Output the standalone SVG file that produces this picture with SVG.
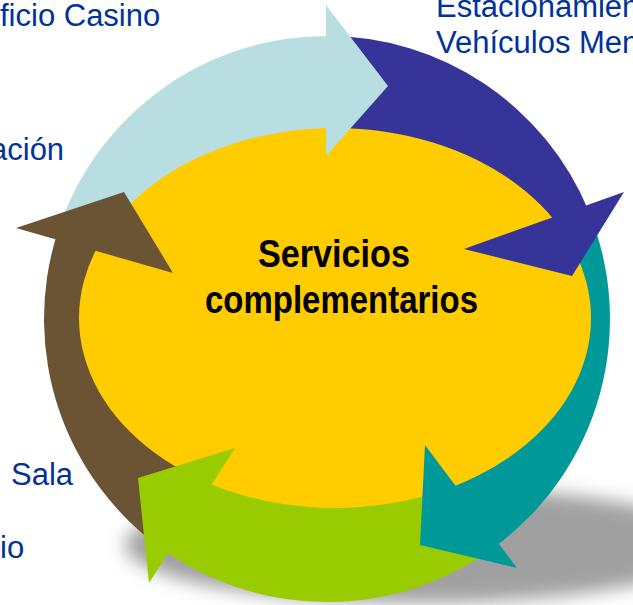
<svg xmlns="http://www.w3.org/2000/svg" width="633" height="605" viewBox="0 0 633 605">
  <defs>
    <filter id="blur" x="-20%" y="-50%" width="140%" height="200%">
      <feGaussianBlur stdDeviation="9"/>
    </filter>
    <style>
      .lbl { font-family: "Liberation Sans", Arial, sans-serif; font-size: 31px; fill: #003399; }
      .ctr { font-family: "Liberation Sans Narrow", "Liberation Sans", Arial, sans-serif; font-weight: bold; font-size: 38px; fill: #000000; }
      .lb { fill: #B9DEE2; }
      .db { fill: #363399; }
      .tl { fill: #009999; }
      .gr { fill: #99CC00; }
      .br { fill: #6B5433; }
    </style>
  </defs>
  <rect width="633" height="605" fill="#FFFFFF"/>

  <!-- shadow -->
  <ellipse cx="420" cy="545" rx="295" ry="58" fill="#A0A0A0" filter="url(#blur)"/>

  <!-- ring bodies (connectors) -->
  <g id="connectors">
    <path class="lb" d="M56.2,236.7 A283,283 0 0 1 331,36 L329.4,149 A170,170 0 0 0 164.3,269.6 Z"/>
    <path class="db" d="M327.5,36 A283,283 0 0 1 588.5,210.7 L484.1,253.9 A170,170 0 0 0 327.3,149 Z"/>
    <path class="tl" d="M587.3,208 A283,283 0 0 1 495.3,546.5 L428.1,455.7 A170,170 0 0 0 483.4,252.3 Z"/>
    <path class="gr" d="M497.7,544.7 A283,283 0 0 1 159.9,547.4 L226.6,456.2 A170,170 0 0 0 429.5,454.6 Z"/>
    <path class="br" d="M163.1,549.7 A283,283 0 0 1 56.8,234.8 L164.7,268.4 A170,170 0 0 0 228.5,457.6 Z"/>
  </g>

  <!-- centre node -->
  <g id="center">
    <ellipse cx="335" cy="318" rx="256" ry="190" fill="#FFCC00"/>
    <text class="ctr" x="258" y="267" textLength="152" lengthAdjust="spacingAndGlyphs">Servicios</text>
    <text class="ctr" x="205" y="313" textLength="273" lengthAdjust="spacingAndGlyphs">complementarios</text>
  </g>

  <!-- arrowheads -->
  <g id="arrowheads">
    <polygon class="lb" points="326,5 388,86 326,156"/>
    <polygon class="db" points="624,192 572,276 464,249"/>
    <polygon class="tl" points="425,445 517,568 420,545"/>
    <polygon class="gr" points="235,448 149,583 138,478"/>
    <polygon class="br" points="16,228 173,273 124,192"/>
  </g>

  <!-- label nodes -->
  <g id="label-casino"><text class="lbl" x="0" y="26">ficio Casino</text></g>
  <g id="label-estacionamiento">
    <text class="lbl" x="436" y="17">Estacionamien</text>
    <text class="lbl" x="436" y="53">Vehículos Men</text>
  </g>
  <g id="label-acion"><text class="lbl" x="-10" y="160">ación</text></g>
  <g id="label-sala"><text class="lbl" x="11" y="485">Sala</text></g>
  <g id="label-io"><text class="lbl" x="0" y="558">io</text></g>
</svg>
